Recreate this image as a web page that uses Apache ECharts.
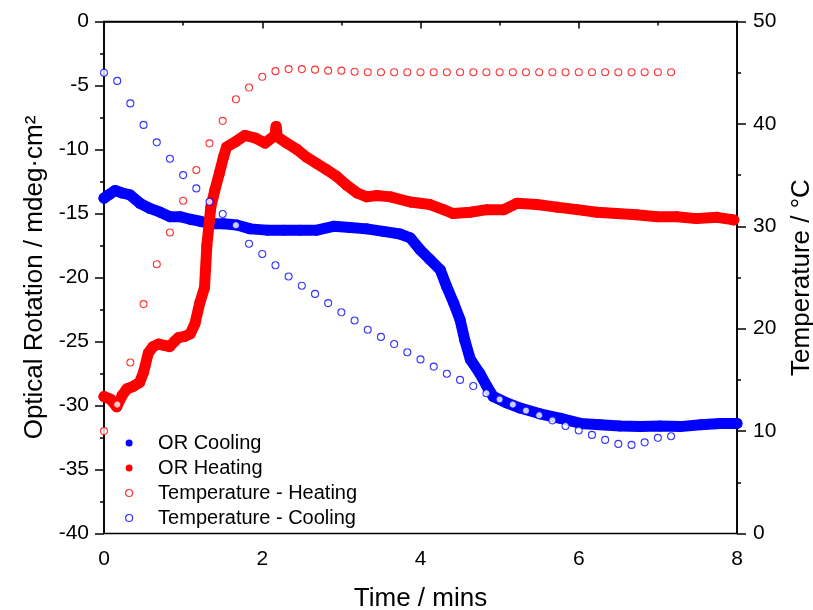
<!DOCTYPE html>
<html><head><meta charset="utf-8">
<script src="https://cdn.jsdelivr.net/npm/echarts@6/dist/echarts.min.js"></script>
<style>html,body{margin:0;padding:0;background:#fff}#c{width:813px;height:610px}</style>
</head><body><div id="c"></div>
<script>
// ---- Optical rotation, cooling (time in mins, OR in mdeg·cm²)
const orCoolTime = [0, 0.07, 0.14, 0.23, 0.33, 0.455, 0.58, 0.71, 0.835, 0.96, 1.09, 1.21, 1.34, 1.51, 1.68, 1.85, 2.06, 2.27, 2.48, 2.69, 2.90, 3.11, 3.32, 3.53, 3.74, 3.87, 3.99, 4.12, 4.25, 4.33, 4.42, 4.50, 4.56, 4.63, 4.75, 4.84, 4.92, 5.09, 5.26, 5.51, 5.77, 6.02, 6.27, 6.52, 6.78, 7.03, 7.28, 7.54, 7.79, 8.0];
const orCoolValue = [-13.8, -13.5, -13.2, -13.4, -13.55, -14.2, -14.6, -14.9, -15.25, -15.25, -15.45, -15.6, -15.8, -15.8, -15.9, -16.2, -16.3, -16.3, -16.3, -16.3, -16.0, -16.1, -16.2, -16.4, -16.6, -16.9, -17.8, -18.6, -19.4, -20.7, -22.0, -23.3, -24.9, -26.4, -27.5, -28.5, -29.3, -29.8, -30.2, -30.65, -31.0, -31.4, -31.5, -31.6, -31.65, -31.6, -31.65, -31.5, -31.4, -31.4];

// ---- Optical rotation, heating
const orHeatTime = [0, 0.08, 0.16, 0.23, 0.29, 0.37, 0.45, 0.50, 0.56, 0.62, 0.69, 0.76, 0.83, 0.89, 0.94, 1.02, 1.09, 1.15, 1.21, 1.27, 1.30, 1.35, 1.40, 1.46, 1.51, 1.55, 1.66, 1.78, 1.91, 2.035, 2.16, 2.175, 2.19, 2.31, 2.44, 2.56, 2.69, 2.82, 2.94, 3.07, 3.20, 3.32, 3.45, 3.62, 3.87, 4.12, 4.29, 4.41, 4.63, 4.84, 5.05, 5.22, 5.47, 5.72, 5.98, 6.23, 6.48, 6.73, 6.99, 7.24, 7.49, 7.75, 7.96];
const orHeatValue = [-29.3, -29.5, -30.1, -29.2, -28.7, -28.5, -28.2, -27.4, -25.9, -25.4, -25.2, -25.3, -25.4, -25.0, -24.7, -24.6, -24.4, -23.6, -22.0, -20.8, -17.5, -14.5, -13.2, -11.8, -10.6, -9.8, -9.4, -8.9, -9.1, -9.5, -8.9, -8.2, -9.0, -9.5, -10.0, -10.6, -11.1, -11.6, -12.1, -12.8, -13.4, -13.7, -13.6, -13.7, -14.1, -14.3, -14.7, -15.0, -14.9, -14.7, -14.7, -14.2, -14.3, -14.5, -14.7, -14.9, -15.0, -15.1, -15.25, -15.25, -15.4, -15.3, -15.5];

// ---- Temperature readings (every 10 s)
const tempTime = [0, 0.167, 0.333, 0.5, 0.667, 0.833, 1.0, 1.167, 1.333, 1.5, 1.667, 1.833, 2.0, 2.167, 2.333, 2.5, 2.667, 2.833, 3.0, 3.167, 3.333, 3.5, 3.667, 3.833, 4.0, 4.167, 4.333, 4.5, 4.667, 4.833, 5.0, 5.167, 5.333, 5.5, 5.667, 5.833, 6.0, 6.167, 6.333, 6.5, 6.667, 6.833, 7.0, 7.167];
const tempHeating = [10.0, 12.6, 16.7, 22.4, 26.3, 29.4, 32.5, 35.5, 38.1, 40.3, 42.4, 43.55, 44.6, 45.15, 45.35, 45.35, 45.3, 45.2, 45.2, 45.1, 45.05, 45.05, 45.05, 45.05, 45.05, 45.05, 45.05, 45.05, 45.05, 45.05, 45.05, 45.05, 45.05, 45.05, 45.05, 45.05, 45.05, 45.05, 45.05, 45.05, 45.05, 45.05, 45.05, 45.05];
const tempCooling = [45.0, 44.2, 42.0, 39.9, 38.2, 36.6, 35.0, 33.7, 32.4, 31.2, 30.1, 28.3, 27.3, 26.2, 25.1, 24.2, 23.4, 22.5, 21.6, 20.8, 19.9, 19.2, 18.5, 17.7, 17.0, 16.3, 15.6, 15.0, 14.4, 13.7, 13.1, 12.6, 12.0, 11.55, 11.05, 10.5, 10.06, 9.63, 9.14, 8.75, 8.65, 8.9, 9.34, 9.5];

const leftTicks = [-40, 0, 5];   // min, max, interval
const rightTicks = [0, 50, 10];
const xTicks = [0, 8, 2];

const BLUE = '#0000ff', RED = '#ff0000';
const FONT = 'Arial, "Liberation Sans", sans-serif';
const zip = (a, b) => a.map((v, i) => [v, b[i]]);

const chart = echarts.init(document.getElementById('c'), null, {renderer: 'canvas'});
const axisLine = {show: true, lineStyle: {color: '#000', width: 1.6}};
chart.setOption({
  animation: false,
  backgroundColor: '#fff',
  grid: {left: 104, right: 76, top: 21.5, bottom: 76.5, containLabel: false, outerBoundsMode: 'none',
         show: true, borderColor: '#000', borderWidth: 1.6, backgroundColor: 'transparent'},
  xAxis: {
    type: 'value', min: xTicks[0], max: xTicks[1], interval: xTicks[2],
    name: 'Time / mins', nameLocation: 'middle', nameGap: 52,
    nameTextStyle: {fontFamily: FONT, fontSize: 26, color: '#000'},
    axisLine: axisLine,
    axisTick: {show: true, inside: false, length: 7, lineStyle: {color: '#000', width: 1.5}},
    minorTick: {show: true, splitNumber: 2, length: 4, lineStyle: {color: '#000', width: 1.5}},
    splitLine: {show: false},
    axisLabel: {fontFamily: FONT, fontSize: 21, color: '#000', margin: 15}
  },
  yAxis: [{
    type: 'value', min: leftTicks[0], max: leftTicks[1], interval: leftTicks[2], position: 'left',
    name: 'Optical Rotation / mdeg·cm²', nameLocation: 'middle', nameGap: 50, nameRotate: 90,
    nameTextStyle: {fontFamily: FONT, fontSize: 26, color: '#000'},
    axisLine: axisLine,
    axisTick: {show: true, inside: false, length: 9, lineStyle: {color: '#000', width: 1.5}},
    minorTick: {show: true, splitNumber: 2, length: 4, lineStyle: {color: '#000', width: 1.5}},
    splitLine: {show: false},
    axisLabel: {fontFamily: FONT, fontSize: 21, color: '#000', margin: 15}
  }, {
    type: 'value', min: rightTicks[0], max: rightTicks[1], interval: rightTicks[2], position: 'right',
    name: 'Temperature / °C', nameLocation: 'middle', nameGap: 52, nameRotate: 90,
    nameTextStyle: {fontFamily: FONT, fontSize: 26, color: '#000'},
    axisLine: axisLine,
    axisTick: {show: true, inside: false, length: 9, lineStyle: {color: '#000', width: 1.5}},
    minorTick: {show: true, splitNumber: 2, length: 4, lineStyle: {color: '#000', width: 1.5}},
    splitLine: {show: false},
    axisLabel: {fontFamily: FONT, fontSize: 21, color: '#000', margin: 16}
  }],
  legend: {
    orient: 'vertical', left: 120, top: 428, itemWidth: 48, itemHeight: 7, itemGap: 5,
    textStyle: {fontFamily: FONT, fontSize: 20, color: '#000', lineHeight: 20},
    data: [
      {name: 'OR Cooling', icon: 'circle', itemStyle: {color: BLUE}},
      {name: 'OR Heating', icon: 'circle', itemStyle: {color: RED}},
      {name: 'Temperature - Heating', icon: 'circle', itemStyle: {color: '#fff', borderColor: RED, borderWidth: 1.2}},
      {name: 'Temperature - Cooling', icon: 'circle', itemStyle: {color: '#fff', borderColor: BLUE, borderWidth: 1.2}}
    ]
  },
  series: [{
    name: 'OR Cooling', type: 'line', yAxisIndex: 0, data: zip(orCoolTime, orCoolValue),
    symbol: 'circle', symbolSize: 11, showSymbol: true,
    itemStyle: {color: BLUE}, lineStyle: {color: BLUE, width: 11, cap: 'round', join: 'round'}, z: 2
  }, {
    name: 'OR Heating', type: 'line', yAxisIndex: 0, data: zip(orHeatTime, orHeatValue),
    symbol: 'circle', symbolSize: 11, showSymbol: true,
    itemStyle: {color: RED}, lineStyle: {color: RED, width: 11, cap: 'round', join: 'round'}, z: 3
  }, {
    name: 'Temperature - Heating', type: 'scatter', yAxisIndex: 1, data: zip(tempTime, tempHeating),
    symbol: 'circle', symbolSize: 7,
    itemStyle: {color: '#fff', borderColor: RED, borderWidth: 1.1}, z: 4
  }, {
    name: 'Temperature - Cooling', type: 'scatter', yAxisIndex: 1, data: zip(tempTime, tempCooling),
    symbol: 'circle', symbolSize: 7,
    itemStyle: {color: '#fff', borderColor: BLUE, borderWidth: 1.1}, z: 5
  }]
});
</script>
</body></html>
